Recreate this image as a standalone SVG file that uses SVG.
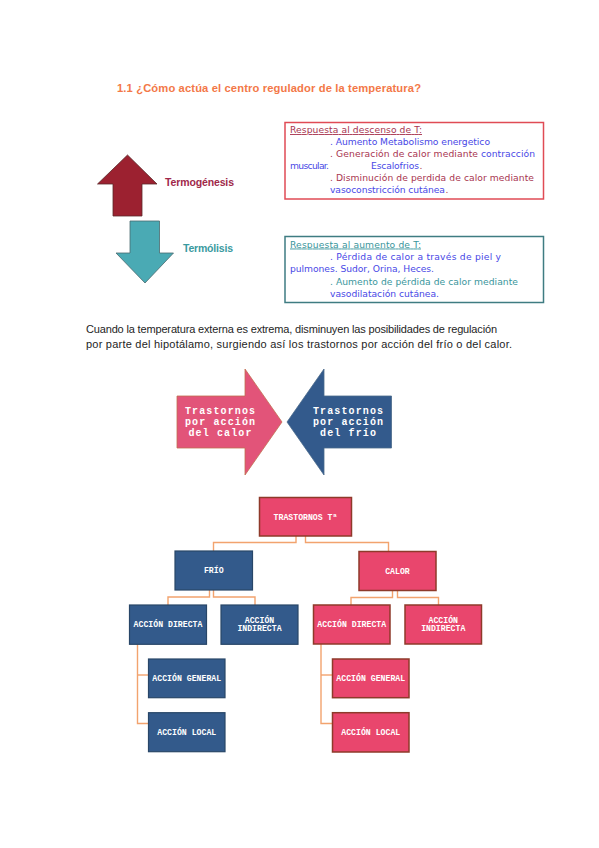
<svg xmlns="http://www.w3.org/2000/svg" width="599" height="848" viewBox="0 0 599 848">
<style>
.title{font-family:"Liberation Sans",Arial,sans-serif;font-weight:bold;font-size:11.2px;fill:#F37848}
.lbl{font-family:"Liberation Sans",Arial,sans-serif;font-weight:bold;font-size:10.5px}
.bx{font-family:"DejaVu Sans",Verdana,sans-serif;font-size:9.2px}
.r{fill:#A83550}.b{fill:#4848E6}.t{fill:#3A969C}
.para{font-family:"Liberation Sans",Arial,sans-serif;font-size:11px;fill:#1e1e1e}
.big{font-family:"Liberation Mono","Courier New",monospace;font-weight:bold;font-size:10px;fill:#ffffff;text-anchor:middle}
.nt{font-family:"Liberation Mono","Courier New",monospace;font-weight:bold;font-size:8.2px;fill:#ffffff;text-anchor:middle}
.pk{fill:#E9466D;stroke:#8E3A2A;stroke-width:1.5}
.bl{fill:#335A8B;stroke:#284668;stroke-width:1.2}
.con{fill:none;stroke:#F2A36E;stroke-width:1.4}
</style>

<g id="title"><text class="title" x="117" y="92" textLength="304">1.1 ¿Cómo actúa el centro regulador de la temperatura?</text></g>

<g id="termogenesis">
<polygon points="127.5,155 97.5,184 113,184 113,216 142,216 142,184 157,184" fill="#9C2130" stroke="#5a2a2a" stroke-width="0.8"/>
<text class="lbl" x="165" y="186" fill="#A0284A" textLength="69">Termogénesis</text>
</g>
<g id="termolisis">
<polygon points="130,221 159.5,221 159.5,253 173.5,253 145,283 116,253 130,253" fill="#4AAAB4" stroke="#4a6a6e" stroke-width="0.8"/>
<text class="lbl" x="183" y="252" fill="#3A9AA0" textLength="50">Termólisis</text>
</g>

<g id="box-descenso">
<rect x="285" y="122.5" width="258.5" height="76.5" fill="#ffffff" stroke="#E04B55" stroke-width="1.5"/>
<text class="bx r" x="290" y="133" text-decoration="underline" textLength="132">Respuesta al descenso de T:</text>
<text class="bx b" x="330" y="145" textLength="160">. Aumento Metabolismo energetico</text>
<text class="bx r" x="330" y="157" textLength="148">. Generación de calor mediante</text>
<text class="bx b" x="481" y="157" textLength="54">contracción</text>
<text class="bx b" x="290" y="169" textLength="39">muscular.</text>
<text class="bx b" x="371" y="169" textLength="48">Escalofrios</text>
<text class="bx r" x="419.5" y="169">.</text>
<text class="bx r" x="330" y="181" textLength="204">. Disminución de perdida de calor mediante</text>
<text class="bx b" x="330" y="193" textLength="115">vasoconstricción cutánea</text>
<text class="bx r" x="445.5" y="193">.</text>
</g>

<g id="box-aumento">
<rect x="285" y="236.5" width="258.5" height="66" fill="#ffffff" stroke="#3F7C82" stroke-width="1.5"/>
<text class="bx t" x="290" y="247.5" text-decoration="underline" textLength="131">Respuesta al aumento de T:</text>
<text class="bx b" x="330" y="259.5" textLength="171">. Pérdida de calor a través de piel y</text>
<text class="bx b" x="290" y="272" textLength="144">pulmones. Sudor, Orina, Heces.</text>
<text class="bx t" x="330" y="284.5" textLength="188">. Aumento de pérdida de calor mediante</text>
<text class="bx b" x="330" y="296.5" textLength="109">vasodilatación cutánea.</text>
</g>

<g id="paragraph">
<text class="para" x="86" y="333" textLength="411">Cuando la temperatura externa es extrema, disminuyen las posibilidades de regulación</text>
<text class="para" x="86" y="348" textLength="426">por parte del hipotálamo, surgiendo así los trastornos por acción del frío o del calor.</text>
</g>

<g id="arrow-calor">
<polygon points="177,396 245,396 245,369 282,422 245,475 245,448 177,448" fill="#E25479" stroke="#C0704F" stroke-width="0.8"/>
<text class="big" x="220" y="413.5" textLength="70">Trastornos</text>
<text class="big" x="220" y="424.5" textLength="70">por acción</text>
<text class="big" x="220" y="435.5" textLength="63">del calor</text>
</g>
<g id="arrow-frio">
<polygon points="391.5,396 324,396 324,369 287,422 324,475 324,448 391.5,448" fill="#335A8C" stroke="#4a6a8a" stroke-width="0.8"/>
<text class="big" x="348" y="413.5" textLength="70">Trastornos</text>
<text class="big" x="348" y="424.5" textLength="70">por acción</text>
<text class="big" x="348" y="435.5" textLength="56">del frío</text>
</g>

<g id="connectors">
<polyline class="con" points="296,536 296,542.5 213.5,542.5 213.5,551"/>
<polyline class="con" points="305.5,536 305.5,542.5 388.5,542.5 388.5,551"/>
<polyline class="con" points="209.5,590 209.5,597 168,597 168,605"/>
<polyline class="con" points="213.5,590 213.5,597 255,597 255,605"/>
<polyline class="con" points="392.5,590.5 392.5,597.5 351,597.5 351,605"/>
<polyline class="con" points="397.5,590.5 397.5,597.5 438.5,597.5 438.5,605"/>
<polyline class="con" points="137.5,644 137.5,723.5 148.5,723.5"/>
<line class="con" x1="137.5" y1="675" x2="148.5" y2="675"/>
<polyline class="con" points="321,644 321,723.5 332.5,723.5"/>
<line class="con" x1="321" y1="675" x2="332.5" y2="675"/>
</g>

<g id="n-trastornos"><rect class="pk" x="259.5" y="497.5" width="92" height="38.5"/><text class="nt" x="305.5" y="519.5">TRASTORNOS Tª</text></g>
<g id="n-frio"><rect class="bl" x="175" y="551" width="77.5" height="39"/><text class="nt" x="213.75" y="573">FRÍO</text></g>
<g id="n-calor"><rect class="pk" x="359" y="551.5" width="77" height="39"/><text class="nt" x="397.5" y="573.5">CALOR</text></g>
<g id="n-frio-directa"><rect class="bl" x="129.5" y="605" width="77" height="39.3"/><text class="nt" x="168" y="627">ACCIÓN DIRECTA</text></g>
<g id="n-frio-indirecta"><rect class="bl" x="221" y="605" width="77" height="39.3"/><text class="nt" x="259.5" y="622.5">ACCIÓN</text><text class="nt" x="259.5" y="630.5">INDIRECTA</text></g>
<g id="n-calor-directa"><rect class="pk" x="313.5" y="605" width="76.5" height="39"/><text class="nt" x="351.75" y="627">ACCIÓN DIRECTA</text></g>
<g id="n-calor-indirecta"><rect class="pk" x="405" y="605" width="76.5" height="39"/><text class="nt" x="443.25" y="622.5">ACCIÓN</text><text class="nt" x="443.25" y="630.5">INDIRECTA</text></g>
<g id="n-frio-general"><rect class="bl" x="148.5" y="659" width="76.5" height="38.7"/><text class="nt" x="186.75" y="681">ACCIÓN GENERAL</text></g>
<g id="n-frio-local"><rect class="bl" x="148.5" y="712.7" width="76.5" height="39"/><text class="nt" x="186.75" y="734.8">ACCIÓN LOCAL</text></g>
<g id="n-calor-general"><rect class="pk" x="332.5" y="659" width="76.5" height="38.7"/><text class="nt" x="370.75" y="681">ACCIÓN GENERAL</text></g>
<g id="n-calor-local"><rect class="pk" x="332.5" y="712.7" width="76.5" height="39.3"/><text class="nt" x="370.75" y="735">ACCIÓN LOCAL</text></g>
</svg>
